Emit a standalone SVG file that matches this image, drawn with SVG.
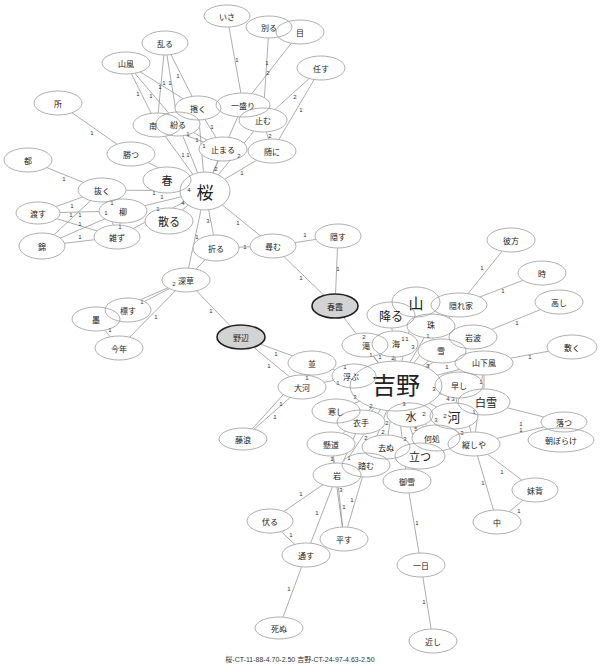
<svg xmlns="http://www.w3.org/2000/svg" xmlns:xlink="http://www.w3.org/1999/xlink" width="600" height="672" viewBox="0 0 600 672">
<style>
.t{font-family:"Noto Sans CJK JP","Noto Sans",sans-serif;font-size:8px;fill:#222;stroke:none;text-anchor:middle;dominant-baseline:central}
.b11{font-size:11px}.b12{font-size:12px}.b13{font-size:13px}.b15{font-size:15px}.b17{font-size:17px}.b24{font-size:24px}
.hl{fill:#d3d3d3;stroke:#222;stroke-width:1.6}
#connectors line{stroke:#8a8a8a;stroke-width:0.7}
.el{font-family:"Liberation Sans",sans-serif;font-size:6px;fill:#333;text-anchor:middle;dominant-baseline:central}
.foot{font-family:"Liberation Sans","Noto Sans CJK JP",sans-serif;font-size:7px;fill:#333;text-anchor:middle}
</style>
<defs>
<mask id="edge-mask" maskUnits="userSpaceOnUse" x="0" y="0" width="600" height="672">
<rect x="0" y="0" width="600" height="672" fill="#fff"/>
<g fill="#000" stroke="#000" stroke-width="0.6">
<use href="#n_isa"/><use href="#n_wakaru"/><use href="#n_me"/><use href="#n_makasu"/><use href="#n_midaru"/><use href="#n_yamakaze"/><use href="#n_tokoro"/><use href="#n_maku"/><use href="#n_hitosakari"/><use href="#n_yamu"/><use href="#n_magiru"/><use href="#n_minami"/><use href="#n_tomaru"/><use href="#n_mani"/><use href="#n_katsu"/><use href="#n_miyako"/><use href="#n_haru"/><use href="#n_sakura"/><use href="#n_nuku"/><use href="#n_yanagi"/><use href="#n_watasu"/><use href="#n_chiru"/><use href="#n_mazu"/><use href="#n_nishiki"/><use href="#n_oru"/><use href="#n_tazunu"/><use href="#n_kakusu"/><use href="#n_fukakusa"/><use href="#n_harugasumi"/><use href="#n_shimesu"/><use href="#n_sumi"/><use href="#n_kotoshi"/><use href="#n_nobe"/><use href="#n_nami"/><use href="#n_taiga"/><use href="#n_fujinami"/><use href="#n_samushi"/><use href="#n_koromode"/><use href="#n_kakemichi"/><use href="#n_inu"/><use href="#n_fumu"/><use href="#n_iwa"/><use href="#n_tatsu"/><use href="#n_miyuki"/><use href="#n_fusu"/><use href="#n_tosu"/><use href="#n_narasu"/><use href="#n_hitohi"/><use href="#n_shinu"/><use href="#n_chikashi"/><use href="#n_yoshino"/><use href="#n_yama"/><use href="#n_furu"/><use href="#n_kakurega"/><use href="#n_tama"/><use href="#n_taki"/><use href="#n_umi"/><use href="#n_yuki"/><use href="#n_iwanami"/><use href="#n_yamashita"/><use href="#n_ukabu"/><use href="#n_hayashi"/><use href="#n_shirayuki"/><use href="#n_kawa"/><use href="#n_mizu"/><use href="#n_izuko"/><use href="#n_yoshiya"/><use href="#n_otsu"/><use href="#n_asaborake"/><use href="#n_imose"/><use href="#n_naka"/><use href="#n_ochikata"/><use href="#n_toki"/><use href="#n_takashi"/><use href="#n_shiku"/>
</g>
</mask>
</defs>
<rect width="600" height="672" fill="#fff"/>
<g id="connectors" mask="url(#edge-mask)">
<line x1="227" y1="16" x2="243" y2="105"/>
<line x1="269" y1="27" x2="263" y2="120"/>
<line x1="300" y1="32" x2="243" y2="105"/>
<line x1="321" y1="68" x2="263" y2="120"/>
<line x1="321" y1="68" x2="272" y2="151"/>
<line x1="263" y1="120" x2="272" y2="151"/>
<line x1="165" y1="43" x2="157" y2="125"/>
<line x1="165" y1="43" x2="178" y2="124"/>
<line x1="165" y1="43" x2="198" y2="108"/>
<line x1="126" y1="63" x2="157" y2="125"/>
<line x1="126" y1="63" x2="178" y2="124"/>
<line x1="126" y1="63" x2="198" y2="108"/>
<line x1="157" y1="125" x2="223" y2="149"/>
<line x1="178" y1="124" x2="223" y2="149"/>
<line x1="198" y1="108" x2="223" y2="149"/>
<line x1="157" y1="125" x2="205" y2="191"/>
<line x1="178" y1="124" x2="205" y2="191"/>
<line x1="198" y1="108" x2="205" y2="191"/>
<line x1="243" y1="105" x2="205" y2="191"/>
<line x1="223" y1="149" x2="205" y2="191"/>
<line x1="263" y1="120" x2="205" y2="191"/>
<line x1="272" y1="151" x2="205" y2="191"/>
<line x1="58" y1="103" x2="131" y2="154"/>
<line x1="131" y1="154" x2="205" y2="191"/>
<line x1="28" y1="160" x2="102" y2="190"/>
<line x1="102" y1="190" x2="205" y2="191"/>
<line x1="123" y1="211" x2="205" y2="191"/>
<line x1="117" y1="237" x2="205" y2="191"/>
<line x1="167" y1="180" x2="205" y2="191"/>
<line x1="169" y1="221" x2="205" y2="191"/>
<line x1="38" y1="213" x2="102" y2="190"/>
<line x1="38" y1="213" x2="123" y2="211"/>
<line x1="38" y1="213" x2="117" y2="237"/>
<line x1="42" y1="246" x2="102" y2="190"/>
<line x1="42" y1="246" x2="123" y2="211"/>
<line x1="42" y1="246" x2="117" y2="237"/>
<line x1="102" y1="190" x2="123" y2="211"/>
<line x1="102" y1="190" x2="117" y2="237"/>
<line x1="123" y1="211" x2="117" y2="237"/>
<line x1="205" y1="191" x2="216" y2="248"/>
<line x1="205" y1="191" x2="273" y2="246"/>
<line x1="216" y1="248" x2="273" y2="246"/>
<line x1="273" y1="246" x2="338" y2="236"/>
<line x1="273" y1="246" x2="335" y2="306"/>
<line x1="338" y1="236" x2="335" y2="306"/>
<line x1="205" y1="191" x2="186" y2="280"/>
<line x1="216" y1="248" x2="186" y2="280"/>
<line x1="186" y1="280" x2="128" y2="310"/>
<line x1="186" y1="280" x2="96" y2="319"/>
<line x1="186" y1="280" x2="119" y2="348"/>
<line x1="96" y1="319" x2="119" y2="348"/>
<line x1="186" y1="280" x2="241" y2="337"/>
<line x1="241" y1="337" x2="312" y2="363"/>
<line x1="241" y1="337" x2="302" y2="387"/>
<line x1="312" y1="363" x2="302" y2="387"/>
<line x1="312" y1="363" x2="354" y2="376"/>
<line x1="302" y1="387" x2="354" y2="376"/>
<line x1="312" y1="363" x2="243" y2="439"/>
<line x1="302" y1="387" x2="243" y2="439"/>
<line x1="335" y1="306" x2="396" y2="386"/>
<line x1="365" y1="345" x2="396" y2="386"/>
<line x1="395" y1="344" x2="396" y2="386"/>
<line x1="391" y1="315" x2="396" y2="386"/>
<line x1="416" y1="302" x2="396" y2="386"/>
<line x1="431" y1="326" x2="396" y2="386"/>
<line x1="459" y1="305" x2="396" y2="386"/>
<line x1="442" y1="351" x2="396" y2="386"/>
<line x1="473" y1="337" x2="396" y2="386"/>
<line x1="484" y1="363" x2="396" y2="386"/>
<line x1="459" y1="385" x2="396" y2="386"/>
<line x1="354" y1="376" x2="396" y2="386"/>
<line x1="454" y1="416" x2="396" y2="386"/>
<line x1="410" y1="415" x2="396" y2="386"/>
<line x1="436" y1="438" x2="396" y2="386"/>
<line x1="474" y1="444" x2="396" y2="386"/>
<line x1="484" y1="402" x2="396" y2="386"/>
<line x1="336" y1="411" x2="396" y2="386"/>
<line x1="361" y1="422" x2="396" y2="386"/>
<line x1="331" y1="444" x2="396" y2="386"/>
<line x1="386" y1="447" x2="396" y2="386"/>
<line x1="366" y1="465" x2="396" y2="386"/>
<line x1="337" y1="475" x2="396" y2="386"/>
<line x1="420" y1="456" x2="396" y2="386"/>
<line x1="407" y1="481" x2="396" y2="386"/>
<line x1="361" y1="422" x2="337" y2="475"/>
<line x1="331" y1="444" x2="337" y2="475"/>
<line x1="331" y1="444" x2="344" y2="539"/>
<line x1="337" y1="475" x2="344" y2="539"/>
<line x1="366" y1="465" x2="344" y2="539"/>
<line x1="337" y1="475" x2="270" y2="521"/>
<line x1="337" y1="475" x2="306" y2="555"/>
<line x1="270" y1="521" x2="306" y2="555"/>
<line x1="306" y1="555" x2="279" y2="628"/>
<line x1="407" y1="481" x2="421" y2="565"/>
<line x1="421" y1="565" x2="433" y2="641"/>
<line x1="459" y1="305" x2="511" y2="240"/>
<line x1="459" y1="305" x2="542" y2="273"/>
<line x1="473" y1="337" x2="559" y2="302"/>
<line x1="484" y1="363" x2="572" y2="347"/>
<line x1="484" y1="402" x2="564" y2="422"/>
<line x1="474" y1="444" x2="564" y2="422"/>
<line x1="474" y1="444" x2="535" y2="490"/>
<line x1="474" y1="444" x2="497" y2="522"/>
<line x1="535" y1="490" x2="497" y2="522"/>
<line x1="410" y1="415" x2="454" y2="416"/>
<line x1="410" y1="415" x2="436" y2="438"/>
<line x1="459" y1="385" x2="454" y2="416"/>
<line x1="459" y1="385" x2="474" y2="444"/>
<line x1="484" y1="363" x2="474" y2="444"/>
<line x1="484" y1="363" x2="484" y2="402"/>
</g>
<g id="edge-labels" class="el">
<text x="237" y="60">1</text><text x="267" y="63">1</text><text x="268" y="73">2</text><text x="295" y="97">2</text><text x="301" y="110">1</text><text x="270" y="136">2</text>
<text x="164" y="83">1</text><text x="170" y="83">1</text><text x="178" y="76">1</text><text x="138" y="94">1</text><text x="151" y="96">1</text><text x="160" y="87">1</text>
<text x="188" y="134">1</text><text x="197" y="140">1</text><text x="212" y="127">1</text><text x="183" y="155">1</text><text x="188" y="155">1</text><text x="204" y="146">1</text><text x="216" y="169">2</text><text x="239" y="156">2</text><text x="242" y="173">1</text>
<text x="92" y="133">1</text><text x="64" y="179">1</text><text x="154" y="193">1</text><text x="162" y="197">1</text><text x="158" y="209">1</text><text x="189" y="190">4</text><text x="183" y="203">4</text>
<text x="72" y="206">1</text><text x="71" y="215">1</text><text x="80" y="215">1</text><text x="80" y="224">1</text><text x="80" y="237">1</text><text x="112" y="203">1</text><text x="106" y="213">1</text><text x="120" y="227">1</text>
<text x="208" y="221">3</text><text x="238" y="223">1</text><text x="245" y="247">1</text><text x="305" y="235">1</text><text x="301" y="278">1</text><text x="338" y="269">1</text><text x="197" y="237">1</text>
<text x="174" y="284">2</text><text x="142" y="302">1</text><text x="156" y="317">1</text><text x="110" y="330">1</text><text x="211" y="311">1</text><text x="276" y="354">1</text><text x="269" y="366">1</text><text x="307" y="378">1</text><text x="345" y="367">1</text><text x="338" y="383">1</text><text x="281" y="404">1</text><text x="275" y="417">1</text>
<text x="364" y="337">2</text><text x="371" y="355">1</text><text x="380" y="357">1</text><text x="393" y="358">2</text><text x="403" y="339">1</text><text x="407" y="339">1</text><text x="413" y="347">3</text><text x="428" y="336">1</text><text x="428" y="366">3</text><text x="447" y="367">1</text><text x="434" y="389">3</text><text x="481" y="382">1</text><text x="474" y="412">1</text><text x="448" y="399">4</text><text x="453" y="399">3</text><text x="424" y="414">2</text><text x="445" y="416">2</text><text x="436" y="420">3</text><text x="416" y="429">5</text><text x="462" y="433">3</text><text x="404" y="404">3</text><text x="405" y="439">3</text>
<text x="355" y="397">3</text><text x="371" y="406">2</text><text x="387" y="423">2</text><text x="383" y="432">2</text><text x="366" y="438">2</text>
<text x="332" y="459">1</text><text x="349" y="458">1</text><text x="341" y="490">3</text><text x="344" y="507">1</text><text x="352" y="500">1</text><text x="301" y="494">1</text><text x="317" y="513">1</text><text x="291" y="535">1</text><text x="289" y="589">1</text><text x="417" y="523">1</text><text x="424" y="602">1</text>
<text x="482" y="268">1</text><text x="503" y="291">1</text><text x="517" y="323">1</text><text x="530" y="357">1</text><text x="521" y="424">1</text><text x="521" y="430">1</text><text x="502" y="472">1</text><text x="483" y="483">1</text><text x="519" y="511">1</text>
</g>
<g id="nodes" fill="none" stroke="#9a9a9a" stroke-width="0.8">
<g id="n_isa"><ellipse cx="227" cy="16" rx="23" ry="11"/><text class="t" x="227" y="16">いさ</text></g>
<g id="n_wakaru"><ellipse cx="269" cy="27" rx="23" ry="11"/><text class="t" x="269" y="27">別る</text></g>
<g id="n_me"><ellipse cx="300" cy="32" rx="24" ry="12"/><text class="t" x="300" y="32">目</text></g>
<g id="n_makasu"><ellipse cx="321" cy="68" rx="24" ry="12"/><text class="t" x="321" y="68">任す</text></g>
<g id="n_midaru"><ellipse cx="165" cy="43" rx="23" ry="12"/><text class="t" x="165" y="43">乱る</text></g>
<g id="n_yamakaze"><ellipse cx="126" cy="63" rx="24" ry="11"/><text class="t" x="126" y="63">山風</text></g>
<g id="n_tokoro"><ellipse cx="58" cy="103" rx="24" ry="12"/><text class="t" x="58" y="103">所</text></g>
<g id="n_maku"><ellipse cx="198" cy="108" rx="23" ry="12"/><text class="t" x="198" y="108">捲く</text></g>
<g id="n_hitosakari"><ellipse cx="243" cy="105" rx="27" ry="12"/><text class="t" x="243" y="105">一盛り</text></g>
<g id="n_yamu"><ellipse cx="263" cy="120" rx="24" ry="12"/><text class="t" x="263" y="120">止む</text></g>
<g id="n_magiru"><ellipse cx="178" cy="124" rx="22" ry="12"/><text class="t" x="178" y="124">紛る</text></g>
<g id="n_minami"><ellipse cx="157" cy="125" rx="24" ry="12"/><text class="t" x="153" y="125">南</text></g>
<g id="n_tomaru"><ellipse cx="223" cy="149" rx="24" ry="12"/><text class="t" x="223" y="149">止まる</text></g>
<g id="n_mani"><ellipse cx="272" cy="151" rx="24" ry="12"/><text class="t" x="272" y="151">随に</text></g>
<g id="n_katsu"><ellipse cx="131" cy="154" rx="24" ry="12"/><text class="t" x="131" y="154">勝つ</text></g>
<g id="n_miyako"><ellipse cx="28" cy="160" rx="24" ry="12"/><text class="t" x="28" y="160">都</text></g>
<g id="n_haru"><ellipse cx="167" cy="180" rx="24" ry="13"/><text class="t b11" x="167" y="180">春</text></g>
<g id="n_sakura"><ellipse cx="205" cy="191" rx="25" ry="19"/><text class="t b17" x="205" y="191">桜</text></g>
<g id="n_nuku"><ellipse cx="102" cy="190" rx="24" ry="12"/><text class="t" x="102" y="190">抜く</text></g>
<g id="n_yanagi"><ellipse cx="123" cy="211" rx="24" ry="12"/><text class="t" x="123" y="211">柳</text></g>
<g id="n_watasu"><ellipse cx="38" cy="213" rx="22" ry="11"/><text class="t" x="38" y="213">渡す</text></g>
<g id="n_chiru"><ellipse cx="169" cy="221" rx="24" ry="13"/><text class="t b11" x="169" y="221">散る</text></g>
<g id="n_mazu"><ellipse cx="117" cy="237" rx="23" ry="12"/><text class="t" x="117" y="237">雑ず</text></g>
<g id="n_nishiki"><ellipse cx="42" cy="246" rx="23" ry="13"/><text class="t" x="42" y="246">錦</text></g>
<g id="n_oru"><ellipse cx="216" cy="248" rx="23" ry="13"/><text class="t" x="216" y="248">折る</text></g>
<g id="n_tazunu"><ellipse cx="273" cy="246" rx="23" ry="12"/><text class="t" x="273" y="246">尋む</text></g>
<g id="n_kakusu"><ellipse cx="338" cy="236" rx="23" ry="12"/><text class="t" x="338" y="236">隠す</text></g>
<g id="n_fukakusa"><ellipse cx="186" cy="280" rx="24" ry="12"/><text class="t" x="186" y="280">深草</text></g>
<g id="n_harugasumi"><ellipse class="hl" cx="335" cy="306" rx="23" ry="12"/><text class="t" x="335" y="306">春霞</text></g>
<g id="n_shimesu"><ellipse cx="128" cy="310" rx="23" ry="12"/><text class="t" x="128" y="310">標す</text></g>
<g id="n_sumi"><ellipse cx="96" cy="319" rx="24" ry="12"/><text class="t" x="96" y="319">墨</text></g>
<g id="n_kotoshi"><ellipse cx="119" cy="348" rx="24" ry="12"/><text class="t" x="119" y="348">今年</text></g>
<g id="n_nobe"><ellipse class="hl" cx="241" cy="337" rx="24" ry="12"/><text class="t" x="241" y="337">野辺</text></g>
<g id="n_nami"><ellipse cx="312" cy="363" rx="24" ry="12"/><text class="t" x="312" y="363">並</text></g>
<g id="n_taiga"><ellipse cx="302" cy="387" rx="24" ry="12"/><text class="t" x="302" y="387">大河</text></g>
<g id="n_fujinami"><ellipse cx="243" cy="439" rx="24" ry="11"/><text class="t" x="243" y="439">藤浪</text></g>
<g id="n_samushi"><ellipse cx="336" cy="411" rx="24" ry="12"/><text class="t" x="336" y="411">寒し</text></g>
<g id="n_koromode"><ellipse cx="361" cy="422" rx="24" ry="12"/><text class="t" x="361" y="422">衣手</text></g>
<g id="n_kakemichi"><ellipse cx="331" cy="444" rx="24" ry="12"/><text class="t" x="331" y="444">懸道</text></g>
<g id="n_inu"><ellipse cx="386" cy="447" rx="24" ry="12"/><text class="t" x="386" y="447">去ぬ</text></g>
<g id="n_fumu"><ellipse cx="366" cy="465" rx="24" ry="12"/><text class="t" x="366" y="465">踏む</text></g>
<g id="n_iwa"><ellipse cx="337" cy="475" rx="24" ry="12"/><text class="t" x="337" y="475">岩</text></g>
<g id="n_tatsu"><ellipse cx="420" cy="456" rx="25" ry="13"/><text class="t b11" x="420" y="456">立つ</text></g>
<g id="n_miyuki"><ellipse cx="407" cy="481" rx="24" ry="12"/><text class="t" x="407" y="481">御雪</text></g>
<g id="n_fusu"><ellipse cx="270" cy="521" rx="23" ry="12"/><text class="t" x="270" y="521">伏る</text></g>
<g id="n_tosu"><ellipse cx="306" cy="555" rx="24" ry="12"/><text class="t" x="306" y="555">通す</text></g>
<g id="n_narasu"><ellipse cx="344" cy="539" rx="24" ry="12"/><text class="t" x="344" y="539">平す</text></g>
<g id="n_hitohi"><ellipse cx="421" cy="565" rx="24" ry="12"/><text class="t" x="421" y="565">一日</text></g>
<g id="n_shinu"><ellipse cx="279" cy="628" rx="24" ry="11"/><text class="t" x="279" y="628">死ぬ</text></g>
<g id="n_chikashi"><ellipse cx="433" cy="641" rx="24" ry="12"/><text class="t" x="433" y="641">近し</text></g>
<g id="n_yoshino"><ellipse cx="396" cy="386" rx="46" ry="25"/><text class="t b24" x="396" y="383">吉野</text></g>
<g id="n_yama"><ellipse cx="416" cy="302" rx="24" ry="15"/><text class="t b15" x="416" y="302">山</text></g>
<g id="n_furu"><ellipse cx="391" cy="315" rx="24" ry="13"/><text class="t b12" x="391" y="315">降る</text></g>
<g id="n_kakurega"><ellipse cx="459" cy="305" rx="28" ry="12"/><text class="t" x="461" y="305">隠れ家</text></g>
<g id="n_tama"><ellipse cx="431" cy="326" rx="24" ry="12"/><text class="t" x="431" y="324">珠</text></g>
<g id="n_taki"><ellipse cx="365" cy="345" rx="23" ry="12"/><text class="t" x="366" y="345">滝</text></g>
<g id="n_umi"><ellipse cx="395" cy="344" rx="23" ry="13"/><text class="t" x="396" y="343">海</text></g>
<g id="n_yuki"><ellipse cx="442" cy="351" rx="24" ry="12"/><text class="t" x="441" y="350">雪</text></g>
<g id="n_iwanami"><ellipse cx="473" cy="337" rx="24" ry="12"/><text class="t" x="473" y="337">岩波</text></g>
<g id="n_yamashita"><ellipse cx="484" cy="363" rx="29" ry="12"/><text class="t" x="484" y="362">山下風</text></g>
<g id="n_ukabu"><ellipse cx="354" cy="376" rx="22" ry="12"/><text class="t" x="351" y="376">浮ぶ</text></g>
<g id="n_hayashi"><ellipse cx="459" cy="385" rx="24" ry="13"/><text class="t" x="459" y="385">早し</text></g>
<g id="n_shirayuki"><ellipse cx="484" cy="402" rx="26" ry="13"/><text class="t b11" x="486" y="402">白雪</text></g>
<g id="n_kawa"><ellipse cx="454" cy="416" rx="24" ry="13"/><text class="t b13" x="454" y="416">河</text></g>
<g id="n_mizu"><ellipse cx="410" cy="415" rx="23" ry="12"/><text class="t b11" x="411" y="416">水</text></g>
<g id="n_izuko"><ellipse cx="436" cy="438" rx="24" ry="13"/><text class="t" x="432" y="438">何処</text></g>
<g id="n_yoshiya"><ellipse cx="474" cy="444" rx="26" ry="12"/><text class="t" x="474" y="444">縦しや</text></g>
<g id="n_otsu"><ellipse cx="564" cy="422" rx="23" ry="10"/><text class="t" x="564" y="422">落つ</text></g>
<g id="n_asaborake"><ellipse cx="561" cy="440" rx="33" ry="12"/><text class="t" x="561" y="440">朝ぼらけ</text></g>
<g id="n_imose"><ellipse cx="535" cy="490" rx="23" ry="12"/><text class="t" x="535" y="490">妹背</text></g>
<g id="n_naka"><ellipse cx="497" cy="522" rx="24" ry="12"/><text class="t" x="497" y="522">中</text></g>
<g id="n_ochikata"><ellipse cx="511" cy="240" rx="24" ry="12"/><text class="t" x="511" y="240">彼方</text></g>
<g id="n_toki"><ellipse cx="542" cy="273" rx="24" ry="12"/><text class="t" x="542" y="273">時</text></g>
<g id="n_takashi"><ellipse cx="559" cy="302" rx="24" ry="12"/><text class="t" x="559" y="302">高し</text></g>
<g id="n_shiku"><ellipse cx="572" cy="347" rx="25" ry="12"/><text class="t" x="572" y="347">敷く</text></g>
</g>
<text class="foot" x="300" y="662">桜-CT-11-88-4.70-2.50 吉野-CT-24-97-4.63-2.50</text>
</svg>
